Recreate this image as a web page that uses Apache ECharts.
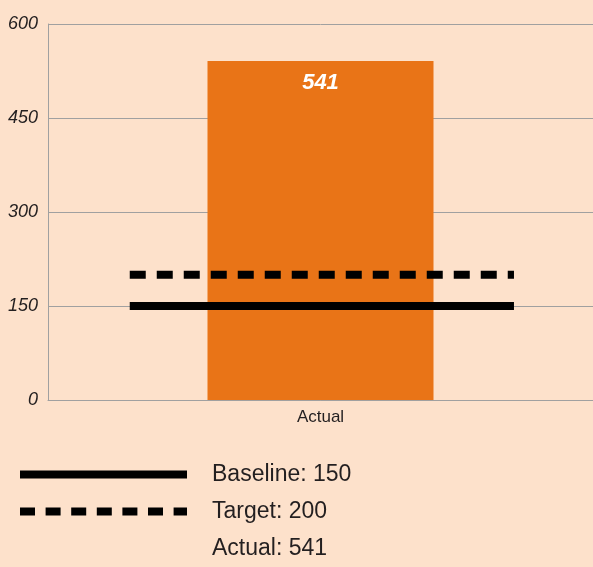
<!DOCTYPE html>
<html>
<head>
<meta charset="utf-8">
<script src="https://cdn.jsdelivr.net/npm/echarts@6/dist/echarts.min.js"></script>
<style>
html, body { margin: 0; padding: 0; background: #fde1cb; }
#chart { width: 593px; height: 567px; }
</style>
</head>
<body>
<div id="chart"></div>
<script>
// values
var categories = ['Actual'];
var actualValues = [541];
var baselineValue = 150;
var targetValue = 200;
var yTicks = [0, 150, 300, 450, 600];

// horizontal extent of the reference lines, as a fraction of the plot width
var lineSpan = [0.15, 0.855];

var font = 'Liberation Sans';
var legendValues = { Baseline: baselineValue, Target: targetValue, Actual: actualValues[0] };

var chart = echarts.init(document.getElementById('chart'));
chart.setOption({
	backgroundColor: '#fde1cb',
	animation: false,
	grid: {
		left: 48,
		right: 0,
		top: 24,
		bottom: 167
	},
	legend: {
		orient: 'vertical',
		left: 16,
		top: 463,
		padding: 0,
		itemWidth: 167,
		itemHeight: 8,
		itemGap: 14,
		textStyle: {
			fontFamily: font,
			fontSize: 23,
			color: '#231f20',
			padding: [0, 0, 0, 20]
		},
		formatter: function (name) {
			return name + ': ' + legendValues[name];
		},
		data: [
			{
				name: 'Baseline',
				itemStyle: { opacity: 0 },
				lineStyle: { width: 8, color: '#000000', cap: 'butt' }
			},
			{
				name: 'Target',
				itemStyle: { opacity: 0 },
				lineStyle: { width: 8, color: '#000000', type: [15, 10.6], cap: 'butt' }
			},
			{ name: 'Actual', itemStyle: { opacity: 0 } }
		]
	},
	xAxis: [{
		type: 'category',
		data: categories,
		axisLine: { lineStyle: { color: '#a0a0a0', width: 1 } },
		axisTick: { show: false },
		axisLabel: {
			fontFamily: font,
			fontSize: 17,
			color: '#231f20',
			margin: 9
		}
	}, {
		type: 'value',
		min: 0,
		max: 1,
		show: false
	}],
	yAxis: {
		type: 'value',
		min: yTicks[0],
		max: yTicks[yTicks.length - 1],
		interval: 150,
		axisLine: { show: true, lineStyle: { color: '#a0a0a0', width: 1 } },
		axisTick: { show: false },
		splitLine: { lineStyle: { color: '#a0a0a0', width: 1 } },
		axisLabel: {
			fontFamily: font,
			fontStyle: 'italic',
			fontSize: 18,
			color: '#231f20',
			margin: 10
		}
	},
	series: [{
		name: 'Actual',
		type: 'bar',
		data: actualValues,
		barWidth: 226,
		itemStyle: { color: '#e97417' },
		label: {
			show: true,
			position: 'insideTop',
			distance: 11,
			color: '#ffffff',
			fontFamily: font,
			fontStyle: 'italic',
			fontWeight: 'bold',
			fontSize: 22
		},
		z: 2
	}, {
		name: 'Baseline',
		type: 'line',
		xAxisIndex: 1,
		data: [[lineSpan[0], baselineValue], [lineSpan[1], baselineValue]],
		symbol: 'none',
		lineStyle: { color: '#000000', width: 8, cap: 'butt' },
		itemStyle: { color: '#000000' },
		z: 5
	}, {
		name: 'Target',
		type: 'line',
		xAxisIndex: 1,
		data: [[lineSpan[0], targetValue], [lineSpan[1], targetValue]],
		symbol: 'none',
		lineStyle: { color: '#000000', width: 8, type: [16, 11], cap: 'butt' },
		itemStyle: { color: '#000000' },
		z: 5
	}]
});
</script>
</body>
</html>
